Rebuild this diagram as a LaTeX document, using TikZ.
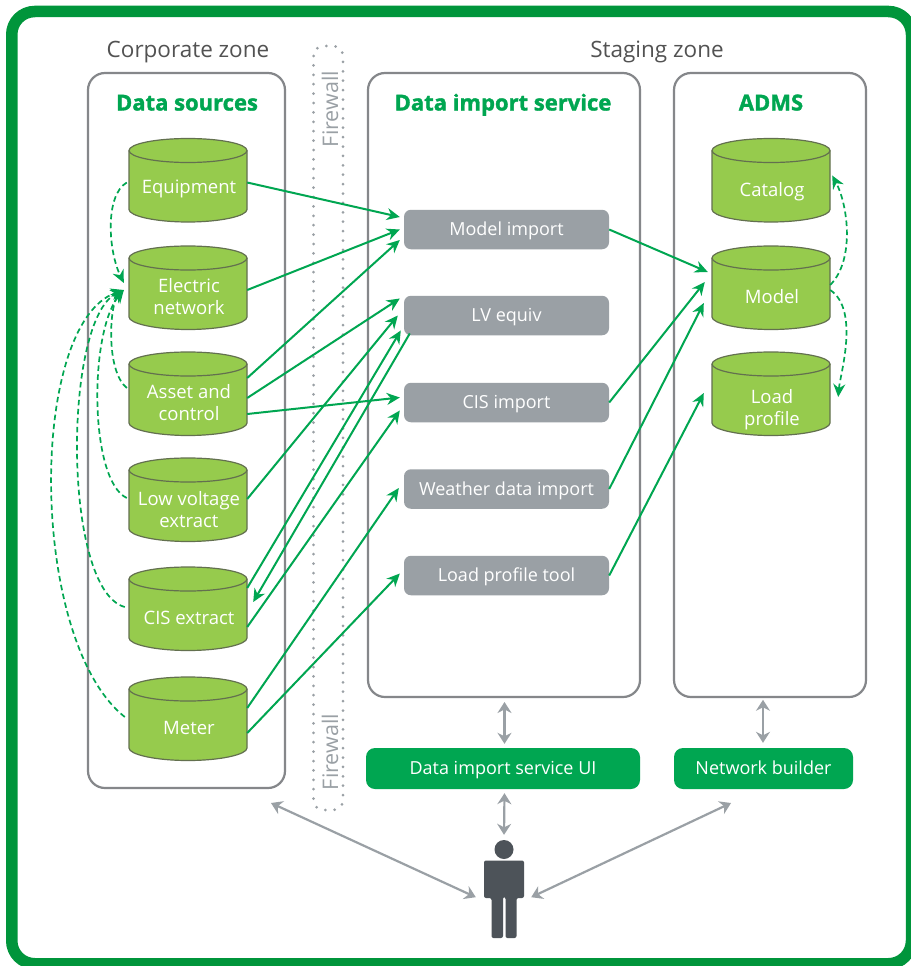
\documentclass[tikz,border=0pt]{standalone}
\usepackage{fontspec}
\setmainfont{Open Sans}
\newfontfamily\heavyfont[BoldFeatures={FakeBold=1.5}]{Open Sans}
\usetikzlibrary{arrows.meta,calc}
\definecolor{frameg}{HTML}{00953B}
\definecolor{flowg}{HTML}{00A651}
\definecolor{cylg}{HTML}{96CB4D}
\definecolor{cyle}{HTML}{63704F}
\definecolor{boxe}{HTML}{85878A}
\definecolor{tgray}{HTML}{9AA0A5}
\definecolor{man}{HTML}{4D5359}
\tikzset{
  panel/.style={draw=boxe,line width=2.2pt,rounded corners=17pt,fill=white},
  zonelabel/.style={font=\fontsize{22.5}{26}\selectfont,text=black!68},
  paneltitle/.style={font=\fontsize{22}{25}\heavyfont\bfseries,text=flowg,text height=16pt,text depth=5pt},
  cylanchor/.style={inner sep=0pt,minimum width=118pt,minimum height=72pt},
  cyltext/.style={font=\fontsize{18.5}{22}\selectfont,text=white,align=center,inner sep=0pt},
  svc/.style={fill=tgray,rounded corners=7pt,minimum width=205pt,minimum height=39.5pt,inner sep=0pt,text=white,font=\fontsize{18}{20}\selectfont,text height=14pt,text depth=2pt},
  btn/.style={fill=flowg,rounded corners=9pt,minimum height=41pt,inner sep=0pt,text=white,font=\fontsize{18}{20}\selectfont,text height=14pt,text depth=2pt},
  flow/.style={draw=flowg,line width=2pt,-{Stealth[length=13pt,width=12pt]}},
  flowd/.style={draw=flowg,line width=1.7pt,dash pattern=on 5.5pt off 3.5pt,-{Stealth[length=13pt,width=12pt]}},
  usr/.style={draw=tgray,line width=2.2pt,{Stealth[length=11pt,width=14pt]}-{Stealth[length=11pt,width=14pt]}},
  fwtext/.style={rotate=90,font=\fontsize{21.5}{24}\selectfont,text=tgray,inner sep=0pt}
}
% name, x, top y, half width, text offset, text
\newcommand{\cylnode}[5]{%
  \begin{scope}[shift={(#2,#3)}]
    \path[fill=cylg,draw=cyle,line width=1.2pt] (-59,12)
      .. controls (-59,5.4) and (-32.6,0) .. (0,0)
      .. controls (32.6,0) and (59,5.4) .. (59,12)
      -- (59,71) .. controls (59,77.5) and (32.6,83.5) .. (0,83.5)
      .. controls (-32.6,83.5) and (-59,77.5) .. (-59,71) -- cycle;
    \draw[cyle,line width=1.2pt] (-59,12) .. controls (-59,18.6) and (-32.6,24) .. (0,24)
      .. controls (32.6,24) and (59,18.6) .. (59,12);
    \node[cylanchor] (#1) at (0,50) {};
    \node[cyltext] (#1t) at (1,50+#4) {#5};
  \end{scope}}
\begin{document}
\begin{tikzpicture}[x=1pt,y=-1pt]
\useasboundingbox (0,0) rectangle (910,966);
\draw[frameg,line width=11.5pt,rounded corners=23pt,fill=white] (11.75,11.5) rectangle (911.5,963.75);
% panels
\node[zonelabel] (zc) at (188,52) {Corporate zone};
\node[zonelabel] (zs) at (657,52) {Staging zone};
\draw[panel] (88,73) rectangle (285,788);
\draw[panel] (368,73) rectangle (640,697);
\draw[panel] (674,73) rectangle (866,697);
\draw[tgray,line width=3pt,dash pattern=on 0pt off 9.4pt,line cap=round,rounded corners=10pt] (313.5,46) rectangle (343,810);
\node[fwtext] (fw1) at (330,109) {Firewall};
\node[fwtext] (fw2) at (330,752) {Firewall};
\node[paneltitle] (t1) at (187,105) {Data sources};
\node[paneltitle] (t2) at (503,105) {Data import service};
\node[paneltitle] (t3) at (771,105) {ADMS};
% cylinders
\cylnode{eq}{188}{138.5}{0.5}{Equipment}
\cylnode{el}{188}{246}{0.5}{Electric\\network}
\cylnode{as}{188}{352}{1}{Asset and\\control}
\cylnode{lx}{188}{458}{2}{Low voltage\\extract}
\cylnode{cx}{188}{567}{0.5}{CIS extract}
\cylnode{me}{188}{677}{1}{Meter}
\cylnode{ca}{771}{138.5}{3}{Catalog}
\cylnode{mo}{771}{246}{1}{Model}
\cylnode{lp}{771}{352}{7.5}{Load\\profile}
% services
\node[svc] (mi) at (506.5,229.5) {Model import};
\node[svc] (lv) at (506.5,315.5) {LV equiv};
\node[svc] (ci) at (506.5,402.5) {CIS import};
\node[svc] (wd) at (506.5,489) {Weather data import};
\node[svc] (lt) at (506.5,575.5) {Load profile tool};
\node[btn,minimum width=274pt] (ui) at (503,768.5) {Data import service UI};
\node[btn,minimum width=179pt] (nb) at (763.5,768.5) {Network builder};
% flows
\draw[flow] ($(eq.east)+(0,-6)$) -- ($(mi.west)+(-4,-12.5)$);
\draw[flow] ($(el.east)+(0,-6)$) -- ($(mi.west)+(-4,0)$);
\draw[flow] ($(as.east)+(0,-24)$) -- ($(mi.west)+(-4,10.5)$);
\draw[flow] ($(as.east)+(0,-4)$) -- ($(lv.west)+(-4,-17)$);
\draw[flow] ($(as.east)+(0,12)$) -- ($(ci.west)+(-4,-5)$);
\draw[flow] ($(lx.east)+(0,-9)$) -- ($(lv.west)+(-6,0)$);
\draw[flow] ($(cx.east)+(0,-29)$) -- ($(lv.west)+(-3,15)$);
\draw[flow] ($(lv.south west)+(6,-2)$) -- ($(cx.east)+(6,-15)$);
\draw[flow] ($(cx.east)+(0,10)$) -- ($(ci.west)+(-4,8)$);
\draw[flow] ($(me.east)+(0,-19)$) -- ($(wd.west)+(-5,-1)$);
\draw[flow] ($(me.east)+(0,6)$) -- ($(lt.west)+(-4,-2)$);
\draw[flow] (mi.east) -- ($(mo.west)+(-4,-24)$);
\draw[flow] (ci.east) -- ($(mo.west)+(-7,-14)$);
\draw[flow] (wd.east) -- ($(mo.west)+(-8,7)$);
\draw[flow] (lt.east) -- ($(lp.west)+(-8,-9)$);
% dashed
\draw[flowd] ($(eq.west)+(-2,-6)$) .. controls (105,195) and (108,250) .. ($(el.west)+(-5,-13)$);
\draw[flowd] ($(as.west)+(-2,-14)$) .. controls (105,370) and (110,303) .. ($(el.west)+(-5,-6)$);
\draw[flowd] ($(lx.west)+(-2,-10)$) .. controls (89,480) and (89,332) .. ($(el.west)+(-5,-6)$);
\draw[flowd] ($(cx.west)+(-4,-10)$) .. controls (62,590) and (63,319) .. ($(el.west)+(-5,-6)$);
\draw[flowd] ($(me.west)+(-4,-10)$) .. controls (28,640) and (28,323) .. ($(el.west)+(-5,-6)$);
\draw[flowd] ($(mo.east)+(0,-11)$) .. controls (855,260) and (848,205) .. ($(ca.east)+(2,-13)$);
\draw[flowd] ($(mo.east)+(0,-6)$) .. controls (860,310) and (840,375) .. ($(lp.east)+(8,-5)$);
% person
\fill[man] (504,849.5) circle (9.5);
\fill[man,rounded corners=2pt] (484,860.5) -- (524,860.5) -- (524,898) -- (516.5,898) -- (516.5,938) -- (505.5,938) -- (505.5,897) -- (503,897) -- (503,938) -- (491.5,938) -- (491.5,898) -- (484,898) -- cycle;
\node[inner sep=0pt,minimum width=60pt,minimum height=60pt] (user) at (504,880) {};
\coordinate (uleft) at (271,803);
\coordinate (uright) at (731,803);
\coordinate (dtop) at (504.5,702);
\draw[usr] (dtop) -- ($(ui.north)+(1.5,-4)$);
\draw[usr] ($(ui.south)+(1.5,4)$) -- ($(user.north)+(0,-15)$);
\draw[usr] ($(nb.north)+(-0.5,-5)$) -- ($(nb.north)+(-0.5,-48)$);
\draw[usr] (uleft) -- ($(user.south west)+(2,-13)$);
\draw[usr] (uright) -- ($(user.south east)+(-3,-13)$);
\end{tikzpicture}
\end{document}
